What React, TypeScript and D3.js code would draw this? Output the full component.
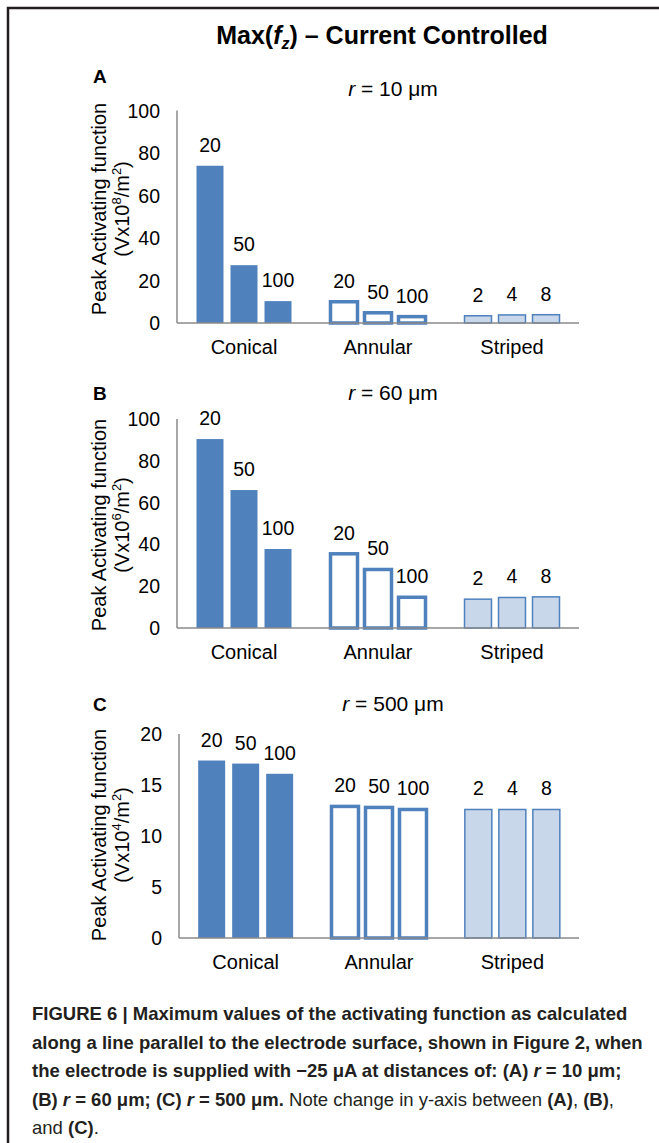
import * as d3 from "d3"

// chart data
const groups = ["Conical", "Annular", "Striped"]
const barLabels = [
  ["20", "50", "100"],
  ["20", "50", "100"],
  ["2", "4", "8"],
]

const conicalA = [74, 27.2, 10.3]
const annularA = [10, 4.8, 3.0]
const stripedA = [3.4, 3.8, 3.9]

const conicalB = [90.4, 66, 37.8]
const annularB = [35.5, 28, 14.7]
const stripedB = [13.8, 14.6, 14.9]

const conicalC = [17.4, 17.1, 16.1]
const annularC = [12.9, 12.8, 12.6]
const stripedC = [12.6, 12.6, 12.6]

const ticksAB = [0, 20, 40, 60, 80, 100]
const ticksC = [0, 5, 10, 15, 20]

const panelLetters = ["A", "B", "C"]
const radii = ["10", "60", "500"]
const exponents = ["8", "6", "4"]

const FONT = "'Liberation Sans', Arial, Helvetica, sans-serif"
const BLUE = "#4f81bd"
const LIGHT = "#c9d7ea"
const AXIS = "#8a8a8a"
const INK = "#231f20"

// layout of each panel (pixels)
const panels = [
  { values: [conicalA, annularA, stripedA], ticks: ticksAB, max: 100, x0: 177, x1: 579, y0: 323, yTop: 110.5, letterY: 83, subY: 96, titleY: 209 },
  { values: [conicalB, annularB, stripedB], ticks: ticksAB, max: 100, x0: 177, x1: 579, y0: 628, yTop: 419, letterY: 400, subY: 400, titleY: 525 },
  { values: [conicalC, annularC, stripedC], ticks: ticksC, max: 20, x0: 179, x1: 579, y0: 938, yTop: 734, letterY: 711, subY: 711, titleY: 835 },
]

function Panel({ p, i }: { p: any; i: number }) {
  const x = d3.scaleBand<string>().domain(groups).range([p.x0, p.x1])
  const inner = d3.scaleBand<number>().domain([0, 1, 2]).range([-47.5, 47.5]).paddingInner(0.206)
  const y = d3.scaleLinear().domain([0, p.max]).range([p.y0, p.yTop])

  return (
    <g>
      {/* panel letter and radius */}
      <text x={93} y={p.letterY} fontSize={19} fontWeight="bold" fill="#000">{panelLetters[i]}</text>
      <text x={393} y={p.subY} fontSize={21} textAnchor="middle" fill="#000">
        <tspan fontStyle="italic">r</tspan> = {radii[i]} μm
      </text>

      {/* y axis title */}
      <g transform={`translate(106, ${p.titleY}) rotate(-90)`}>
        <text x={0} y={0} fontSize={20} textAnchor="middle" fill="#000">Peak Activating function</text>
        <text x={0} y={23} fontSize={20} textAnchor="middle" fill="#000">
          (Vx10<tspan fontSize={13} dy={-8}>{exponents[i]}</tspan>
          <tspan dy={8}>/m</tspan>
          <tspan fontSize={13} dy={-8}>2</tspan>
          <tspan dy={8}>)</tspan>
        </text>
      </g>

      {/* tick labels */}
      {p.ticks.map((t: number) => (
        <text key={t} x={p.x0 - 17} y={y(t) + 7} fontSize={19.5} textAnchor="end" fill="#000">{t}</text>
      ))}

      {/* bars */}
      {groups.map((g, gi) => {
        const cx = (x(g) as number) + x.bandwidth() / 2
        return p.values[gi].map((v: number, bi: number) => {
          const bx = cx + (inner(bi) as number)
          const bw = inner.bandwidth()
          const fill = gi === 0 ? BLUE : gi === 1 ? "#fff" : LIGHT
          const sw = gi === 0 ? 0 : gi === 1 ? 3.5 : 1.5
          return (
            <g key={g + bi}>
              <rect x={bx} y={y(v)} width={bw} height={p.y0 - y(v)} fill={fill} stroke={sw ? BLUE : "none"} strokeWidth={sw} />
              <text x={bx + bw / 2} y={y(v) - 14} fontSize={19.5} textAnchor="middle" fill="#000">{barLabels[gi][bi]}</text>
            </g>
          )
        })
      })}

      {/* axes */}
      <line x1={p.x0} x2={p.x0} y1={p.yTop} y2={p.y0} stroke={AXIS} strokeWidth={1.5} />
      <line x1={p.x0} x2={p.x1} y1={p.y0} y2={p.y0} stroke={AXIS} strokeWidth={1.5} />

      {/* categories */}
      {groups.map((g) => (
        <text key={g} x={(x(g) as number) + x.bandwidth() / 2} y={p.y0 + 31} fontSize={20} textAnchor="middle" fill="#000">{g}</text>
      ))}
    </g>
  )
}

export default function App() {
  const W = 659
  const H = 1143
  const capX = 32
  const capSize = 18.5

  return (
    <svg width={W} height={H} style={{ position: "absolute", left: 0, top: 0, display: "block" }} fontFamily={FONT}>
      <rect width={W} height={H} fill="#fff" />
      <path d={`M8,${H} V8 H${W}`} fill="none" stroke={INK} strokeWidth={2.5} />

      <text x={382} y={44} fontSize={25} fontWeight="bold" textAnchor="middle" fill="#000">
        Max(<tspan fontStyle="italic">f</tspan>
        <tspan fontStyle="italic" fontSize={16} dy={5}>z</tspan>
        <tspan dy={-5}>) – Current Controlled</tspan>
      </text>

      {panels.map((p, i) => (
        <Panel key={i} p={p} i={i} />
      ))}

      {/* caption */}
      <g fontSize={capSize} fill={INK}>
        <text x={capX} y={1020} fontWeight="bold">FIGURE 6 | Maximum values of the activating function as calculated</text>
        <text x={capX} y={1048.5} fontWeight="bold">along a line parallel to the electrode surface, shown in Figure 2, when</text>
        <text x={capX} y={1077} fontWeight="bold">
          the electrode is supplied with −25 μA at distances of: (A) <tspan fontStyle="italic">r</tspan> = 10 μm;
        </text>
        <text x={capX} y={1105.5}>
          <tspan fontWeight="bold">(B) </tspan>
          <tspan fontWeight="bold" fontStyle="italic">r</tspan>
          <tspan fontWeight="bold"> = 60 μm; (C) </tspan>
          <tspan fontWeight="bold" fontStyle="italic">r</tspan>
          <tspan fontWeight="bold"> = 500 μm.</tspan> Note change in y-axis between <tspan fontWeight="bold">(A)</tspan>, <tspan fontWeight="bold">(B)</tspan>,
        </text>
        <text x={capX} y={1134}>
          and <tspan fontWeight="bold">(C)</tspan>.
        </text>
      </g>
    </svg>
  )
}
